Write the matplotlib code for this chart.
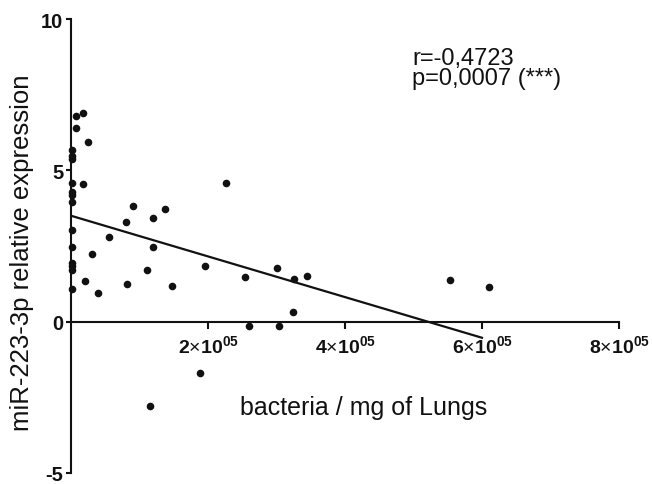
import numpy as np
import matplotlib
matplotlib.use('Agg')
from matplotlib import pyplot as plt
from matplotlib.ticker import FixedLocator, FixedFormatter

plt.rcParams['font.family'] = ['Liberation Sans', 'DejaVu Sans']
plt.rcParams['mathtext.fontset'] = 'custom'
plt.rcParams['mathtext.rm'] = 'Liberation Sans'
plt.rcParams['mathtext.bf'] = 'Liberation Sans:bold'
plt.rcParams['axes.unicode_minus'] = False

# bacteria / mg of lungs
bacteria = [6900, 16800, 6600, 24800, 1500, 1500, 1500, 1500, 17500, 1500,
            1500, 1500, 1500, 55500, 1500, 30200, 1500, 1500, 1500, 20400,
            1500, 39000, 90000, 80300, 137000, 120000, 119000, 111000, 81300, 148000,
            226000, 196000, 254000, 301000, 326000, 344000, 324000, 260000, 304000, 189000,
            115000, 553000, 610000]
# miR-223-3p relative expression
expression = [6.79, 6.89, 6.40, 5.94, 5.67, 5.47, 5.38, 4.57, 4.54, 4.29,
              4.19, 3.95, 3.04, 2.81, 2.48, 2.25, 1.94, 1.83, 1.71, 1.34,
              1.09, 0.95, 3.81, 3.29, 3.71, 3.41, 2.48, 1.72, 1.25, 1.17,
              4.58, 1.85, 1.47, 1.78, 1.42, 1.51, 0.33, -0.14, -0.14, -1.69,
              -2.80, 1.38, 1.15]

# linear fit shown on the figure
fit_intercept = 3.50
fit_slope = -6.72e-6
fit_range = [0, 600000]

x_ticks = [200000, 400000, 600000, 800000]
x_ticklabels = [r'$\mathbf{2}{\times}\mathbf{10}^{\mathbf{05}}$',
                r'$\mathbf{4}{\times}\mathbf{10}^{\mathbf{05}}$',
                r'$\mathbf{6}{\times}\mathbf{10}^{\mathbf{05}}$',
                r'$\mathbf{8}{\times}\mathbf{10}^{\mathbf{05}}$']
y_ticks = [-5, 0, 5, 10]
y_ticklabels = ['-5', '0', '5', '10']

stats_r = 'r=-0,4723'
stats_p = 'p=0,0007 (***)'


def plot():
    fig = plt.figure(figsize=(6.52, 4.85), dpi=100, facecolor='w')
    ax = fig.add_axes([71 / 652, 11 / 485, 548 / 652, 454 / 485])

    ax.scatter(bacteria, expression, s=30, color='#111111', zorder=3, clip_on=False,
               linewidths=0)

    fx = np.array(fit_range, dtype=float)
    ax.plot(fx, fit_intercept + fit_slope * fx, color='#111111', lw=1.6, zorder=2)

    ax.set_xlim(0, 800000)
    ax.set_ylim(-5, 10)

    for side in ('top', 'right'):
        ax.spines[side].set_visible(False)
    ax.spines['bottom'].set_position(('data', 0))
    ax.spines['bottom'].set_bounds(0, 800000)
    ax.spines['left'].set_bounds(-5, 10)
    for side in ('bottom', 'left'):
        ax.spines[side].set_linewidth(1.5)
        ax.spines[side].set_color('#111111')

    ax.xaxis.set_major_locator(FixedLocator(x_ticks))
    ax.xaxis.set_major_formatter(FixedFormatter(x_ticklabels))
    ax.yaxis.set_major_locator(FixedLocator(y_ticks))
    ax.yaxis.set_major_formatter(FixedFormatter(y_ticklabels))
    ax.tick_params(axis='x', direction='out', length=5, width=1.5, pad=4,
                   labelsize=14, colors='#111111')
    ax.tick_params(axis='y', direction='out', length=3.6, width=1.5, pad=2,
                   labelsize=14.5, colors='#111111')
    for lab in ax.get_yticklabels():
        lab.set_fontweight('bold')

    ax.set_xlabel('bacteria / mg of Lungs', fontsize=18, color='#111111')
    ax.xaxis.label.set_verticalalignment('baseline')
    ax.xaxis.set_label_coords(0.534, 0.13)

    ax.set_ylabel('miR-223-3p relative expression', fontsize=18.5, color='#111111')
    ax.yaxis.label.set_verticalalignment('center')
    ax.yaxis.set_label_coords(-0.090, 0.488)

    ax.text(498000, 8.52, stats_r, fontsize=17, color='#111111', va='baseline')
    ax.text(498000, 7.86, stats_p, fontsize=17, color='#111111', va='baseline')

    fig.savefig('out.png', dpi=100, facecolor='w')


if __name__ == '__main__':
    plot()
